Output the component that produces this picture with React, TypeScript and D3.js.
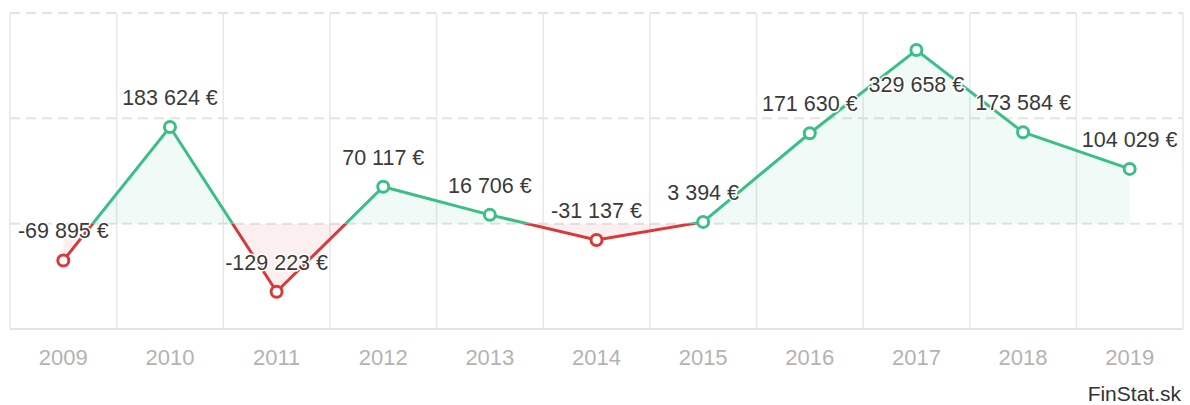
import React, { useEffect, useRef } from "react";
import * as d3 from "d3";

const years = ["2009", "2010", "2011", "2012", "2013", "2014", "2015", "2016", "2017", "2018", "2019"];
const profit = [-69895, 183624, -129223, 70117, 16706, -31137, 3394, 171630, 329658, 173584, 104029];
const gridValues = [400000, 200000, 0];

const GREEN = "#3bbf86";
const RED = "#d8393a";
const FONT = "'Liberation Sans', Arial, sans-serif";

function App() {
  const ref = useRef<SVGSVGElement>(null);

  useEffect(() => {
    const width = 1190;
    const height = 405;
    const margin = { top: 13, right: 7, bottom: 76, left: 10 };

    const svg = d3.select(ref.current);
    svg.selectAll("*").remove();
    svg.attr("width", width).attr("height", height);

    const x = d3
      .scaleBand()
      .domain(years)
      .range([margin.left, width - margin.right]);

    const y = d3
      .scaleLinear()
      .domain([-200000, 400000])
      .range([height - margin.bottom, margin.top]);

    const cx = (d: string) => (x(d) as number) + x.bandwidth() / 2;
    const data = years.map((yr, i) => ({ yr, v: profit[i] }));
    const y0 = y(0);

    // svislé čiary mriežky
    const bounds = years.map(d => x(d) as number).concat([width - margin.right]);
    svg
      .append("g")
      .selectAll("line")
      .data(bounds)
      .join("line")
      .attr("x1", d => d)
      .attr("x2", d => d)
      .attr("y1", margin.top)
      .attr("y2", height - margin.bottom)
      .attr("stroke", "#e6e9e8")
      .attr("stroke-width", 1.5);

    // vodorovné čiarkované
    svg
      .append("g")
      .selectAll("line")
      .data(gridValues)
      .join("line")
      .attr("x1", margin.left)
      .attr("x2", width - margin.right)
      .attr("y1", d => y(d))
      .attr("y2", d => y(d))
      .attr("stroke", "#e3e3e3")
      .attr("stroke-width", 2)
      .attr("stroke-dasharray", "10,6");

    // os x
    svg
      .append("line")
      .attr("x1", margin.left)
      .attr("x2", width - margin.right)
      .attr("y1", height - margin.bottom)
      .attr("y2", height - margin.bottom)
      .attr("stroke", "#e3e3e3")
      .attr("stroke-width", 2);

    const defs = svg.append("defs");
    defs
      .append("clipPath")
      .attr("id", "above")
      .append("rect")
      .attr("x", 0)
      .attr("y", 0)
      .attr("width", width)
      .attr("height", y0);
    defs
      .append("clipPath")
      .attr("id", "below")
      .append("rect")
      .attr("x", 0)
      .attr("y", y0)
      .attr("width", width)
      .attr("height", height - y0);

    const area = d3
      .area<{ yr: string; v: number }>()
      .x(d => cx(d.yr))
      .y0(y0)
      .y1(d => y(d.v));

    const line = d3
      .line<{ yr: string; v: number }>()
      .x(d => cx(d.yr))
      .y(d => y(d.v));

    svg.append("path").datum(data).attr("d", area).attr("fill", GREEN).attr("fill-opacity", 0.08).attr("clip-path", "url(#above)");
    svg.append("path").datum(data).attr("d", area).attr("fill", RED).attr("fill-opacity", 0.08).attr("clip-path", "url(#below)");

    svg.append("path").datum(data).attr("d", line).attr("fill", "none").attr("stroke", GREEN).attr("stroke-width", 3).attr("clip-path", "url(#above)");
    svg.append("path").datum(data).attr("d", line).attr("fill", "none").attr("stroke", RED).attr("stroke-width", 3).attr("clip-path", "url(#below)");

    // popisky hodnôt (ak nevojdú nad bod, idú pod neho)
    const fmt = (v: number) => d3.format(",")(v).replace(/,/g, " ").replace("−", "-") + " €";
    const labelY = (v: number) => {
      const py = y(v);
      return py - 29 - 11 < margin.top ? py + 35 : py - 29;
    };
    svg
      .append("g")
      .selectAll("text")
      .data(data)
      .join("text")
      .attr("x", d => cx(d.yr))
      .attr("y", d => labelY(d.v))
      .attr("text-anchor", "middle")
      .attr("dominant-baseline", "central")
      .attr("font-family", FONT)
      .attr("font-size", "21.5px")
      .attr("fill", "#3a3a3a")
      .attr("stroke", "#fff")
      .attr("stroke-width", 3)
      .attr("stroke-linejoin", "round")
      .attr("paint-order", "stroke")
      .text(d => fmt(d.v));

    // body
    svg
      .append("g")
      .selectAll("circle")
      .data(data)
      .join("circle")
      .attr("cx", d => cx(d.yr))
      .attr("cy", d => y(d.v))
      .attr("r", 5.5)
      .attr("fill", "#fff")
      .attr("stroke", d => (d.v < 0 ? RED : GREEN))
      .attr("stroke-width", 3);

    // roky
    svg
      .append("g")
      .selectAll("text")
      .data(years)
      .join("text")
      .attr("x", d => cx(d))
      .attr("y", 357)
      .attr("text-anchor", "middle")
      .attr("dominant-baseline", "central")
      .attr("font-family", FONT)
      .attr("font-size", "22px")
      .attr("fill", "#b3b3b3")
      .text(d => d);

    svg
      .append("text")
      .attr("x", width - 9)
      .attr("y", 393)
      .attr("text-anchor", "end")
      .attr("dominant-baseline", "central")
      .attr("font-family", FONT)
      .attr("font-size", "21px")
      .attr("fill", "#333")
      .text("FinStat.sk");
  }, []);

  return <svg ref={ref} style={{ position: "absolute", left: 0, top: 0 }}></svg>;
}

export default App;
